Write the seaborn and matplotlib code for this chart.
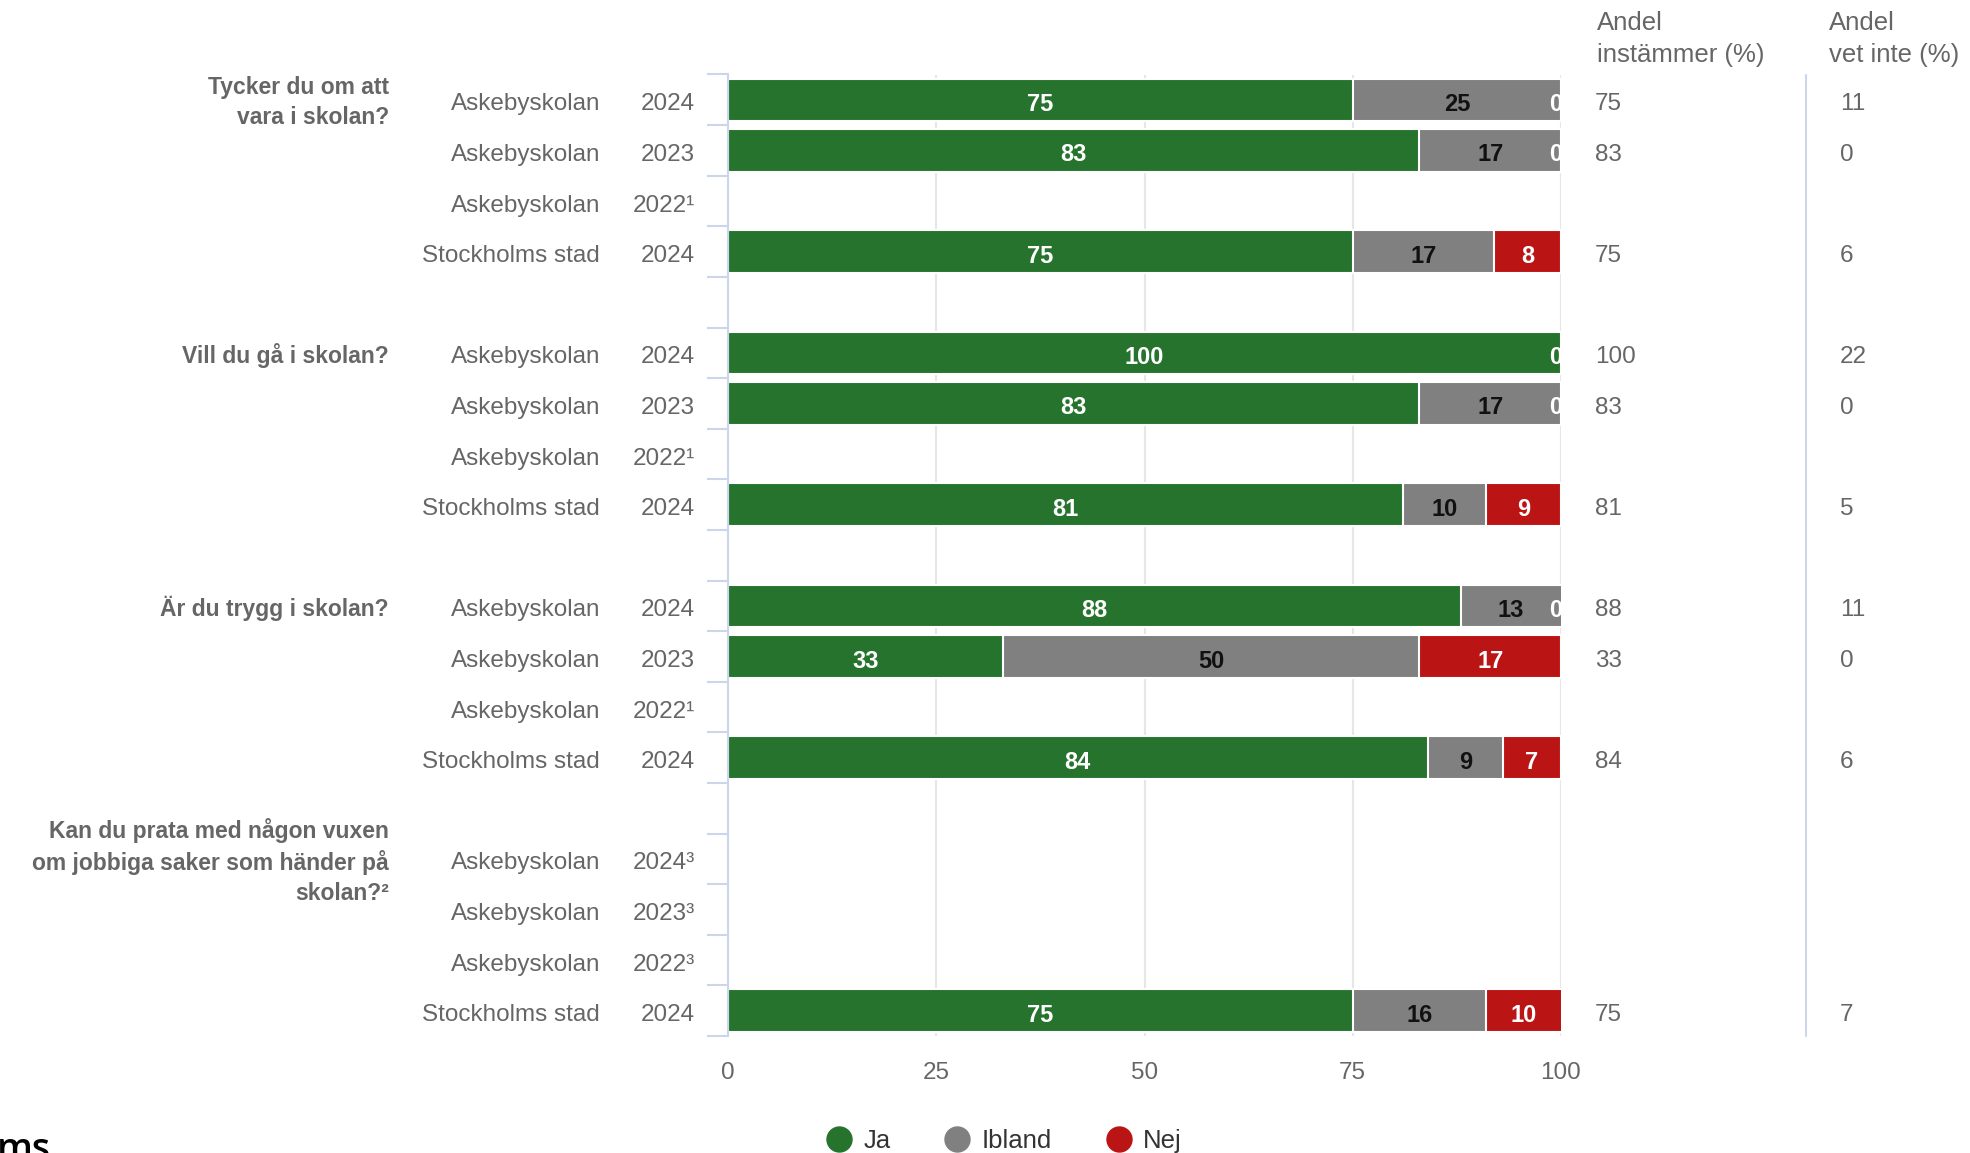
import numpy as np
import pandas as pd
import matplotlib
matplotlib.use("Agg")
import matplotlib.pyplot as plt
import seaborn as sns
from matplotlib.lines import Line2D

nan = np.nan

# ---------------- data ----------------
questions = [
    "Tycker du om att\nvara i skolan?",
    "Vill du gå i skolan?",
    "Är du trygg i skolan?",
    "Kan du prata med någon vuxen\nom jobbiga saker som händer på\nskolan?²",
]
units = ["Askebyskolan", "Askebyskolan", "Askebyskolan", "Stockholms stad"]
years = [
    ["2024", "2023", "2022¹", "2024"],
    ["2024", "2023", "2022¹", "2024"],
    ["2024", "2023", "2022¹", "2024"],
    ["2024³", "2023³", "2022³", "2024"],
]
ja = [[75, 83, nan, 75], [100, 83, nan, 81], [88, 33, nan, 84], [nan, nan, nan, 75]]
ibland = [[25, 17, nan, 17], [0, 17, nan, 10], [13, 50, nan, 9], [nan, nan, nan, 16]]
nej = [[0, 0, nan, 8], [0, 0, nan, 9], [0, 17, nan, 7], [nan, nan, nan, 10]]
instammer = [[75, 83, nan, 75], [100, 83, nan, 81], [88, 33, nan, 84], [nan, nan, nan, 75]]
vet_inte = [[11, 0, nan, 6], [22, 0, nan, 5], [11, 0, nan, 6], [nan, nan, nan, 7]]

series_names = ["Ja", "Ibland", "Nej"]
colors = {"Ja": "#26732E", "Ibland": "#808080", "Nej": "#BB1414"}
label_colors = {"Ja": "white", "Ibland": "#111111", "Nej": "white"}

header1 = "Andel\ninstämmer (%)"
header2 = "Andel\nvet inte (%)"
x_ticks = [0, 25, 50, 75, 100]

# ---------------- build table ----------------
rows = []
slot = 0
group_first_slot = []
for g in range(len(questions)):
    group_first_slot.append(slot)
    for r in range(4):
        rows.append(dict(slot=f"s{slot}", pos=slot, unit=units[r], year=years[g][r],
                         Ja=ja[g][r], Ibland=ibland[g][r], Nej=nej[g][r],
                         inst=instammer[g][r], vet=vet_inte[g][r]))
        slot += 1
    if g < len(questions) - 1:
        rows.append(dict(slot=f"s{slot}", pos=slot, unit="", year="",
                         Ja=nan, Ibland=nan, Nej=nan, inst=nan, vet=nan))
        slot += 1
df = pd.DataFrame(rows)
df["c1"] = df["Ja"]
df["c2"] = df["Ja"] + df["Ibland"]
df["c3"] = df["Ja"] + df["Ibland"] + df["Nej"]
order = list(df["slot"])
nslots = len(order)

# ---------------- figure ----------------
W, H = 1970, 1153
sns.set_theme(style="white")
plt.rcParams["font.family"] = ["Liberation Sans", "DejaVu Sans"]
fig = plt.figure(figsize=(W / 100, H / 100), dpi=100)
ax_l, ax_r, ax_t, ax_b = 728, 1561, 74.5, 1036
ax = fig.add_axes([ax_l / W, 1 - ax_b / H, (ax_r - ax_l) / W, (ax_b - ax_t) / H])

bw = 0.84
for col, name in [("c3", "Nej"), ("c2", "Ibland"), ("c1", "Ja")]:
    sns.barplot(data=df, x=col, y="slot", order=order, color=colors[name],
                width=bw, edgecolor="white", linewidth=1.5, orient="h",
                errorbar=None, saturation=1, ax=ax)

ax.set_xlim(0, 100)
ax.set_ylim(nslots - 0.5, -0.5)
ax.set_xlabel("")
ax.set_ylabel("")
ax.set_yticks([])
ax.set_yticks(np.arange(-0.5, nslots, 1.0), minor=True)
ax.tick_params(axis="y", which="minor", length=15, width=1.5, color="#ccd6eb", left=True)
ax.set_xticks(x_ticks)
ax.set_xticklabels([str(t) for t in x_ticks])
ax.tick_params(axis="x", length=0, pad=19, labelsize=17.5, labelcolor="#666666")
for s in ["top", "right", "bottom"]:
    ax.spines[s].set_visible(False)
ax.spines["left"].set_color("#ccd6eb")
ax.spines["left"].set_linewidth(1.5)
ax.grid(axis="x", color="#e6e6e6", linewidth=1.5)
ax.grid(axis="y", visible=False)
ax.set_axisbelow(True)

dy = 0.09  # text baseline offset (in slot units) to match reference

# data labels
for _, row in df.iterrows():
    if pd.isna(row["Ja"]):
        continue
    start = 0.0
    for name in series_names:
        v = row[name]
        end = start + v
        if v == 0:
            if name == "Nej":
                t = ax.text(99.4, row["pos"] + dy, "0", ha="center", va="center",
                            fontsize=17, fontweight="bold", color=label_colors[name])
                t.set_clip_on(True)
        else:
            cx = (start + min(end, 100)) / 2
            ax.text(cx, row["pos"] + dy, f"{int(v)}", ha="center", va="center",
                    fontsize=17, fontweight="bold", color=label_colors[name])
        start = end

# left labels and right columns
def axx(px):
    return (px - ax_l) / (ax_r - ax_l)

tr = ax.get_yaxis_transform()
grey = "#666666"
for _, row in df.iterrows():
    if not row["unit"]:
        continue
    y = row["pos"] + dy
    ax.text(axx(600), y, row["unit"], ha="right", va="center", fontsize=17.5,
            color=grey, transform=tr, clip_on=False)
    ax.text(axx(695), y, row["year"], ha="right", va="center", fontsize=17.5,
            color=grey, transform=tr, clip_on=False)
    if pd.notna(row["inst"]):
        ax.text(axx(1595), y, f"{int(row['inst'])}", ha="left", va="center",
                fontsize=17.5, color=grey, transform=tr, clip_on=False)
    if pd.notna(row["vet"]):
        ax.text(axx(1840), y, f"{int(row['vet'])}", ha="left", va="center",
                fontsize=17.5, color=grey, transform=tr, clip_on=False)

for g, q in enumerate(questions):
    ax.text(axx(389), group_first_slot[g] + 0.05, q, ha="right", va="center",
            multialignment="right", fontsize=16.5, fontweight="bold",
            color=grey, linespacing=1.38, transform=tr, clip_on=False)

fig.text(1597 / W, 1 - 39 / H, header1, ha="left", va="center", fontsize=18.5,
         color=grey, linespacing=1.45)
fig.text(1829 / W, 1 - 39 / H, header2, ha="left", va="center", fontsize=18.5,
         color=grey, linespacing=1.45)

# separator line
ax.plot([axx(1806), axx(1806)], [0, 1], transform=ax.transAxes, color="#ccd6eb",
        linewidth=1.5, clip_on=False)

# legend
handles = [Line2D([0], [0], marker="o", linestyle="none", markersize=18,
                  markerfacecolor=colors[n], markeredgecolor=colors[n], label=n)
           for n in series_names]
fig.legend(handles=handles, loc="center", bbox_to_anchor=(1004 / W, 1 - 1141 / H),
           ncol=3, frameon=False, fontsize=18.5, handlelength=1.0,
           handletextpad=0.45, columnspacing=2.1, labelcolor="#333333")

# cut-off logo text (partially visible in the reference)
fig.text(-3 / W, -7 / H, "ms", ha="left", va="baseline", fontsize=27,
         color="black", family=["Open Sans", "DejaVu Sans"], fontweight="semibold")

fig.savefig("out.png", dpi=100)
